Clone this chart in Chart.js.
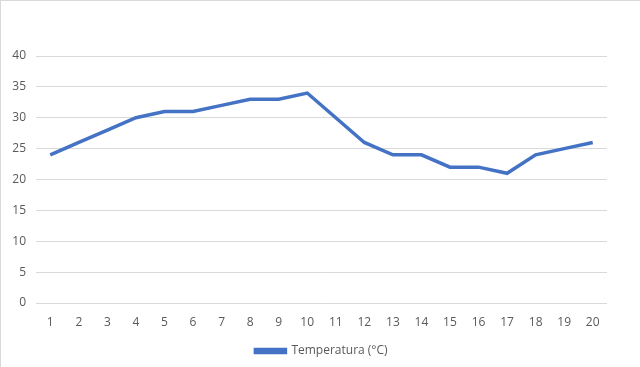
<!DOCTYPE html>
<html>
<head>
<meta charset="utf-8">
<script src="https://cdn.jsdelivr.net/npm/chart.js@4/dist/chart.umd.min.js"></script>
<style>
  html, body { margin: 0; padding: 0; background: #fff; }
  #wrap {
    position: relative; width: 640px; height: 367px; box-sizing: border-box;
    border-top: 1px solid #d9d9d9; border-left: 1px solid #d9d9d9;
  }
</style>
</head>
<body>
<div id="wrap"><canvas id="chart"></canvas></div>
<script>
// Data
const days = ["1", "2", "3", "4", "5", "6", "7", "8", "9", "10",
              "11", "12", "13", "14", "15", "16", "17", "18", "19", "20"];
const temperatures = [24, 26, 28, 30, 31, 31, 32, 33, 33, 34,
                      30, 26, 24, 24, 22, 22, 21, 24, 25, 26];
const seriesLabel = "Temperatura (°C)";

const blue = "#4472C4";
const tickColor = "#595959";
const gridColor = "#d9d9d9";

Chart.defaults.font.family = "'Open Sans', 'Noto Sans', sans-serif";
Chart.defaults.font.size = 12;
Chart.defaults.color = tickColor;

// centre the legend under the plot area instead of the whole canvas
const legendShift = {
    id: "legendShift",
    afterLayout(chart) {
        const area = chart.chartArea;
        const lg = chart.legend;
        const dx = (area.left + area.right) / 2 - (lg.left + lg.right) / 2;
        lg.left += dx;
        lg.right += dx;
    }
};

new Chart(document.getElementById("chart"), {
    type: "line",
    data: {
        labels: days,
        datasets: [{
            label: seriesLabel,
            data: temperatures,
            borderColor: blue,
            backgroundColor: blue,
            borderWidth: 3.5,
            pointRadius: 0,
            tension: 0
        }]
    },
    options: {
        responsive: true,
        maintainAspectRatio: false,
        animation: false,
        layout: { padding: { top: 55, right: 33, left: 0, bottom: 0 } },
        scales: {
            x: {
                offset: true,
                grid: { display: false },
                border: { display: false },
                ticks: { color: tickColor, padding: 4, maxRotation: 0 },
                afterFit: scale => { scale.height = 34; }
            },
            y: {
                min: 0,
                max: 40,
                ticks: { stepSize: 5, color: tickColor, padding: 10 },
                grid: { color: gridColor, drawTicks: false },
                border: { display: false },
                afterFit: scale => { scale.width = 35; }
            }
        },
        plugins: {
            legend: {
                position: "bottom",
                labels: {
                    boxWidth: 30,
                    boxHeight: 3,
                    padding: 8,
                    color: tickColor
                }
            },
            tooltip: { enabled: false }
        }
    },
    plugins: [legendShift]
});
</script>
</body>
</html>
